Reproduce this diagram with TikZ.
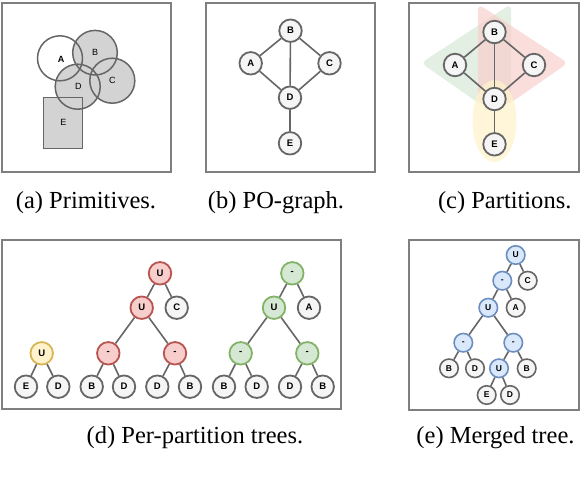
\documentclass[tikz,border=0pt]{standalone}
\usepackage{fontspec}
\setmainfont{Liberation Serif}
\newfontfamily\nodefont{Liberation Sans}
\definecolor{edgegray}{HTML}{666666}
\definecolor{framegray}{HTML}{7F7F7F}
\definecolor{nodefill}{HTML}{F5F5F5}
\definecolor{primfill}{HTML}{D3D3D3}
\definecolor{redfill}{HTML}{F8CECC}
\definecolor{redline}{HTML}{B85450}
\definecolor{greenfill}{HTML}{D5E8D4}
\definecolor{greenline}{HTML}{82B366}
\definecolor{yellowfill}{HTML}{FFF2CC}
\definecolor{yellowline}{HTML}{D6B656}
\definecolor{bluefill}{HTML}{DAE8FC}
\definecolor{blueline}{HTML}{6C8EBF}
\tikzset{
  frame/.style={draw=framegray, line width=2pt},
  vnode/.style={circle, draw=edgegray, fill=nodefill, line width=1.8pt, minimum size=22.5pt, inner sep=0pt,
    font=\nodefont\bfseries\fontsize{9.5}{9.5}\selectfont},
  smallnode/.style={vnode, line width=1.6pt, minimum size=18.5pt, font=\nodefont\bfseries\fontsize{8.5}{8.5}\selectfont},
  rednode/.style={vnode, fill=redfill, draw=redline},
  greennode/.style={vnode, fill=greenfill, draw=greenline},
  yellownode/.style={vnode, fill=yellowfill, draw=yellowline},
  bluenode/.style={smallnode, fill=bluefill, draw=blueline},
  link/.style={draw=edgegray, line width=1.6pt},
  prim/.style={draw=edgegray, line width=1.5pt},
  primlabel/.style={inner sep=0pt, font=\nodefont\fontsize{9}{9}\selectfont},
  captext/.style={anchor=base, inner sep=0pt, font=\fontsize{24.5}{28}\selectfont},
  part/.style={rounded corners=6pt, fill opacity=0.68}
}
\begin{document}
\begin{tikzpicture}[x=1pt,y=-1pt]
\useasboundingbox (0,0) rectangle (580,488);
% frames
\draw[frame] (2,2.5) rectangle (171,171.5);
\draw[frame] (206,2.5) rectangle (375,171.5);
\draw[frame] (409,2.5) rectangle (578.5,172);
\draw[frame] (2,240) rectangle (341,409);
\draw[frame] (409,240) rectangle (578.5,410);

% (a) primitives
\fill[primfill] (95,52.7) circle (22.3);
\fill[primfill] (77.7,86.7) circle (22.5);
\fill[primfill] (112.3,80.7) circle (22.5);
\fill[primfill] (43.3,97.3) rectangle (82.7,148.3);
\draw[prim] (60,58.3) circle (22.5);
\draw[prim] (95,52.7) circle (22.3);
\draw[prim] (77.7,86.7) circle (22.5);
\draw[prim] (112.3,80.7) circle (22.5);
\draw[prim] (43.3,97.3) rectangle (82.7,148.3);
\node[primlabel, font=\nodefont\bfseries\fontsize{9}{9}\selectfont] (pa) at (61,59) {A};
\node[primlabel] (pb) at (95,52.3) {B};
\node[primlabel] (pc) at (112.3,80.7) {C};
\node[primlabel] (pd) at (78.3,86.7) {D};
\node[primlabel] (pe) at (63.3,122.7) {E};

% (b) PO-graph
\node[vnode] (bA) at (250.7,63.3) {A};
\node[vnode] (bB) at (290.5,30.7) {B};
\node[vnode] (bC) at (329.5,63.3) {C};
\node[vnode] (bD) at (290,97.7) {D};
\node[vnode] (bE) at (290,143.3) {E};
\draw[link] (bA) -- (bB);
\draw[link] (bB) -- (bC);
\draw[link] (bB) -- (bD);
\draw[link] (bA) -- (bD);
\draw[link] (bC) -- (bD);
\draw[link] (bD) -- (bE);

% (c) partitions
\fill[part, greenfill] (421,63) -- (511,4) -- (511,104) -- (480,104) -- cycle;
\fill[part, redfill] (568,63) -- (478,4) -- (478,104) -- (509,104) -- cycle;
\fill[yellowfill, fill opacity=0.75] (494.5,121) ellipse (22 and 41);
\node[vnode] (cA) at (455,65) {A};
\node[vnode] (cB) at (494.5,32) {B};
\node[vnode] (cC) at (534,65) {C};
\node[vnode] (cD) at (494.5,99) {D};
\node[vnode] (cE) at (494.5,144.3) {E};
\draw[link] (cA) -- (cB);
\draw[link] (cB) -- (cC);
\draw[link] (cB) -- (cD);
\draw[link] (cA) -- (cD);
\draw[link] (cC) -- (cD);
\draw[link] (cD) -- (cE);

% (d) per-partition trees
\node[yellownode] (yU) at (41.7,353.3) {U};
\node[vnode] (yE) at (26,386.7) {E};
\node[vnode] (yD) at (58.3,386.7) {D};
\draw[link] (yU) -- (yE);
\draw[link] (yU) -- (yD);

\node[rednode] (rU1) at (160,273.3) {U};
\node[rednode] (rU2) at (141.7,307.7) {U};
\node[vnode] (rC) at (176.7,307.7) {C};
\node[rednode] (rM1) at (108.3,353.3) {-};
\node[rednode] (rM2) at (175,353.3) {-};
\node[vnode] (rB1) at (91.7,386.7) {B};
\node[vnode] (rD1) at (124,386.7) {D};
\node[vnode] (rD2) at (157.3,386.7) {D};
\node[vnode] (rB2) at (190,386.7) {B};
\draw[link] (rU1) -- (rU2);
\draw[link] (rU1) -- (rC);
\draw[link] (rU2) -- (rM1);
\draw[link] (rU2) -- (rM2);
\draw[link] (rM1) -- (rB1);
\draw[link] (rM1) -- (rD1);
\draw[link] (rM2) -- (rD2);
\draw[link] (rM2) -- (rB2);

\node[greennode] (gM0) at (292.3,273.3) {-};
\node[greennode] (gU) at (274,307.7) {U};
\node[vnode] (gA) at (309,307.7) {A};
\node[greennode] (gM1) at (240.7,353.3) {-};
\node[greennode] (gM2) at (307.3,353.3) {-};
\node[vnode] (gB1) at (224,386.7) {B};
\node[vnode] (gD1) at (256.7,386.7) {D};
\node[vnode] (gD2) at (290,386.7) {D};
\node[vnode] (gB2) at (322.7,386.7) {B};
\draw[link] (gM0) -- (gU);
\draw[link] (gM0) -- (gA);
\draw[link] (gU) -- (gM1);
\draw[link] (gU) -- (gM2);
\draw[link] (gM1) -- (gB1);
\draw[link] (gM1) -- (gD1);
\draw[link] (gM2) -- (gD2);
\draw[link] (gM2) -- (gB2);

% (e) merged tree
\node[bluenode] (eU1) at (515.7,255) {U};
\node[bluenode] (eM1) at (502.3,280.7) {-};
\node[smallnode] (eC) at (527.7,280.7) {C};
\node[bluenode] (eU2) at (488.3,307.7) {U};
\node[smallnode] (eA) at (515.7,307.7) {A};
\node[bluenode] (eM2) at (463.3,342.7) {-};
\node[bluenode] (eM3) at (513.3,342.7) {-};
\node[smallnode] (eB1) at (449,368.3) {B};
\node[smallnode] (eD1) at (475,368.3) {D};
\node[bluenode] (eU3) at (499,368.3) {U};
\node[smallnode] (eB2) at (526.7,368.3) {B};
\node[smallnode] (eE) at (486.7,395) {E};
\node[smallnode] (eD2) at (510,395) {D};
\draw[link] (eU1) -- (eM1);
\draw[link] (eU1) -- (eC);
\draw[link] (eM1) -- (eU2);
\draw[link] (eM1) -- (eA);
\draw[link] (eU2) -- (eM2);
\draw[link] (eU2) -- (eM3);
\draw[link] (eM2) -- (eB1);
\draw[link] (eM2) -- (eD1);
\draw[link] (eM3) -- (eU3);
\draw[link] (eM3) -- (eB2);
\draw[link] (eU3) -- (eE);
\draw[link] (eU3) -- (eD2);

% captions
\node[captext] (capa) at (86,208) {(a) Primitives.};
\node[captext] (capb) at (276,208) {(b) PO-graph.};
\node[captext] (capc) at (504.7,208) {(c) Partitions.};
\node[captext] (capd) at (195,443) {(d) Per-partition trees.};
\node[captext] (cape) at (495.5,443) {(e) Merged tree.};
\end{tikzpicture}
\end{document}
